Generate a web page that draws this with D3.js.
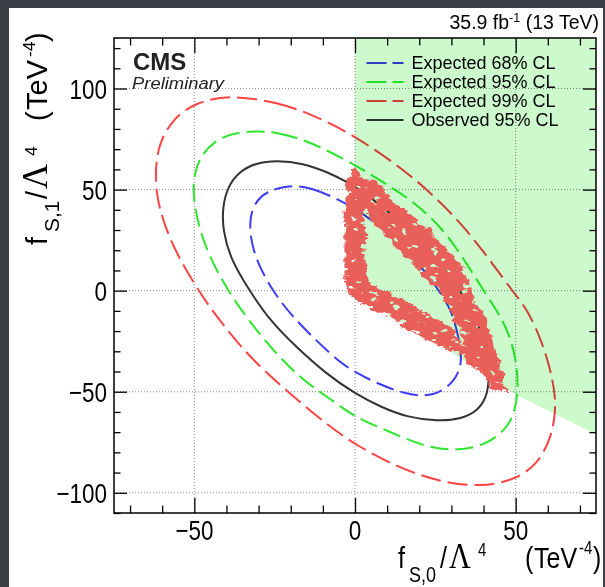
<!DOCTYPE html>
<html>
<head>
<meta charset="utf-8">
<script src="https://cdn.jsdelivr.net/npm/d3@7"></script>
<style>
  html, body { margin: 0; padding: 0; background: #3b3e44; }
  svg { display: block; }
  text { font-family: "Liberation Sans", Arial, Helvetica, sans-serif; }
</style>
</head>
<body>
<svg id="chart" width="605" height="587"></svg>
<script>
// axis ranges and tick labels
const xDomain = [-75, 75];
const yDomain = [-110, 125];
const xMajor = [-50, 0, 50];
const yMajor = [-100, -50, 0, 50, 100];
const xTickLabels = ["\u221250", "0", "50"];
const yTickLabels = ["\u2212100", "\u221250", "0", "50", "100"];

// contours (f_S0, f_S1)
const exp68 = [
  [-20.4, 52.4], [-13.1, 50.7], [-4.8, 44.9], [2.4, 38.3], [9.2, 30], [15.4, 21.7],
  [20.6, 11.8], [26.3, -0.2], [30, -9.7], [32, -21.3], [33.1, -31.2], [32.9, -37.8],
  [31, -44.4], [26.9, -50.2], [21.7, -52.4], [15.4, -51], [7.1, -46.1], [0, -40.3],
  [-4.8, -35.4], [-12.1, -24.6], [-19.4, -13], [-25.1, -1.4], [-29.8, 11.8],
  [-32.3, 23.4], [-32.9, 35], [-31.3, 43.3], [-27.7, 49.1]
];
const exp95 = [
  [-32.9, 79.3], [-23.5, 78.4], [-13.1, 73.1], [0, 62.3], [9.2, 53.2], [17.5, 44.9],
  [26.9, 31.7], [34.1, 15.1], [40.3, -0.7], [45.5, -13], [48.7, -24.6], [50.5, -37.8],
  [50.7, -49.4], [49.7, -61], [46.6, -69.3], [40.3, -76.7], [31, -79.5], [20.6, -76.7],
  [10.2, -69.3], [0, -62.7], [-6.9, -54.4], [-16.3, -44.4], [-25.6, -29.5], [-33.9, -13],
  [-39.6, 0.2], [-44.8, 15.1], [-48.4, 30], [-50.5, 46.6], [-50, 58.2], [-47.9, 67.3],
  [-42.2, 76.4]
];
const exp99 = [
  [-39, 97], [-23.5, 93], [-12, 86.3], [0, 76.4], [12.3, 63.2], [22.7, 49.9], [34.1, 31.7],
  [43.5, 11.8], [49.2, -0.6], [53.8, -9.7], [58, -24.6], [60.6, -37.8], [62.1, -49.4],
  [62.5, -59.3], [61.1, -72.6], [56.9, -85.8], [49.7, -93.7], [39.3, -97.1], [26.9, -94.9],
  [13.3, -87.5], [0, -76.2], [-9, -65.9], [-21.4, -49.4], [-32.9, -32.9], [-42.2, -14.6],
  [-47.9, -2.2], [-55.7, 18.5], [-59.9, 35], [-61.9, 48.3], [-62.1, 61.5], [-60.9, 73.1],
  [-56.8, 84.7], [-50, 92.9]
];
const obs95 = [
  [-24.5, 64.4], [-16.3, 63.2], [-7.9, 58.2], [-2.7, 54], [4.5, 46.9], [19.5, 27.1],
  [33.1, 1.1], [40.9, -24.6], [41.9, -44.4], [40.9, -52.7], [38.3, -59.3], [33.1, -63.5],
  [25.8, -64.6], [16.4, -62.7], [8.2, -57.7], [0, -51], [-9, -41.1], [-18.3, -27.9],
  [-26.6, -14.6], [-32.9, 0.2], [-38.6, 15.1], [-41.2, 30], [-41.2, 41.6], [-39.6, 51.5],
  [-36, 59], [-30.8, 63.2]
];

// green shaded region
const greenRegion = [
  [0, 125], [75, 125], [75, -71], [49.5, -51], [39, -39.5], [22, -22.5], [8, -9.5], [0, -3]
];

// red best-fit band: outer edge and inner hole
const bandOuter = [
  [-2.2, 56.5], [-0.2, 59.8], [6.1, 53.2], [13.3, 43.3], [20.6, 33.4], [26.9, 23.4],
  [33.1, 11.8], [37.2, -3.1], [41.4, -16.3], [43.5, -27.9], [45.5, -39.5], [47.6, -51.9],
  [43.5, -47.8], [39.3, -41.1], [34.1, -34.5], [28.9, -29.5], [22.7, -24.6], [15.4, -18],
  [8.2, -11.3], [1.9, -6.4], [-1.7, -3.1], [-3.3, 6.9], [-3.3, 20.1], [-3.3, 36.6], [-2.7, 49.9]
];
const bandInner = [
  [2.6, 39.5], [7, 32.5], [14.8, 18], [21.8, 6.5], [27, -2], [30, -10.5],
  [33.2, -23], [35, -28.5], [29.4, -18], [23.2, -11.5], [14.9, -4.5], [7.6, 1.5],
  [3.5, 4.5], [3, 35]
];

const legendLabels = ["Expected 68% CL", "Expected 95% CL", "Expected 99% CL", "Observed 95% CL"];

const styles = [
  { color: "#3c3cf5", dash: "18,7" },
  { color: "#2ee62e", dash: "18,7" },
  { color: "#ff4343", dash: "20,7" },
  { color: "#333333", dash: null }
];
const contours = [exp68, exp95, exp99, obs95];

const svg = d3.select("#chart");
const x = d3.scaleLinear().domain(xDomain).range([114, 596]);
const y = d3.scaleLinear().domain(yDomain).range([513, 38]);

// page panel
svg.append("rect").attr("x", 9).attr("y", 8).attr("width", 594).attr("height", 579).attr("fill", "#fff");

const defs = svg.append("defs");
defs.append("clipPath").attr("id", "plotclip")
  .append("rect").attr("x", 114).attr("y", 38).attr("width", 482).attr("height", 475);

const f = defs.append("filter").attr("id", "rough")
  .attr("x", "-10%").attr("y", "-10%").attr("width", "120%").attr("height", "120%");
f.append("feTurbulence").attr("type", "fractalNoise").attr("baseFrequency", "0.07 0.12")
  .attr("numOctaves", 3).attr("seed", 7).attr("result", "noise");
f.append("feDisplacementMap").attr("in", "SourceGraphic").attr("in2", "noise")
  .attr("scale", 11).attr("xChannelSelector", "R").attr("yChannelSelector", "G").attr("result", "disp");
f.append("feTurbulence").attr("type", "fractalNoise").attr("baseFrequency", "0.1 0.2")
  .attr("numOctaves", 2).attr("seed", 3).attr("result", "n2");
f.append("feColorMatrix").attr("in", "n2").attr("type", "matrix")
  .attr("values", "0 0 0 0 0  0 0 0 0 0  0 0 0 0 0  16 0 0 0 -10.6").attr("result", "holes");
f.append("feComposite").attr("in", "disp").attr("in2", "holes").attr("operator", "out");

const plot = svg.append("g").attr("clip-path", "url(#plotclip)");

// grid
plot.selectAll(".gx").data(xMajor).join("line")
  .attr("x1", d => x(d)).attr("x2", d => x(d)).attr("y1", y(yDomain[0])).attr("y2", y(yDomain[1]))
  .attr("stroke", "#8a8a8a").attr("stroke-dasharray", "1,2");
plot.selectAll(".gy").data(yMajor).join("line")
  .attr("y1", d => y(d)).attr("y2", d => y(d)).attr("x1", x(xDomain[0])).attr("x2", x(xDomain[1]))
  .attr("stroke", "#8a8a8a").attr("stroke-dasharray", "1,2");

// contours
const line = d3.line().x(d => x(d[0])).y(d => y(d[1])).curve(d3.curveBasisClosed);
contours.forEach((c, i) => {
  plot.append("path").attr("d", line(c)).attr("fill", "none")
    .attr("stroke", styles[i].color).attr("stroke-width", 2)
    .attr("stroke-dasharray", styles[i].dash);
});

// legend
const legend = svg.append("g");
legendLabels.forEach((lab, i) => {
  const ly = 63 + i * 19;
  legend.append("line").attr("x1", 366.5).attr("x2", 403.5).attr("y1", ly).attr("y2", ly)
    .attr("stroke", styles[i].color).attr("stroke-width", 2)
    .attr("stroke-dasharray", styles[i].dash ? "20,6" : null);
  legend.append("text").attr("x", 411.5).attr("y", ly + 5.5)
    .attr("font-size", 18).attr("fill", "#000").text(lab);
});

// green region, multiplied over everything beneath
const poly = d3.line().x(d => x(d[0])).y(d => y(d[1]));
svg.append("path").attr("d", poly(greenRegion) + "Z").attr("fill", "#ccfacc")
  .style("mix-blend-mode", "multiply");

// red band
svg.append("path").attr("d", poly(bandOuter) + "Z" + poly(bandInner) + "Z")
  .attr("fill", "#e9605a").attr("fill-rule", "evenodd").attr("filter", "url(#rough)");

// frame + ticks on all four sides
const xMinor = d3.range(-70, 71, 10).filter(v => !xMajor.includes(v));
const yMinor = d3.range(-110, 121, 10).filter(v => !yMajor.includes(v));
const axes = [
  [d3.axisBottom(x), 513, "x", 15, xMajor, xMinor],
  [d3.axisTop(x), 38, "x", 15, xMajor, xMinor],
  [d3.axisLeft(y), 114, "y", 13, yMajor, yMinor],
  [d3.axisRight(y), 596, "y", 13, yMajor, yMinor]
];
axes.forEach(([ax, pos, dir, len, maj, min]) => {
  [[maj, len], [min, len / 2]].forEach(([vals, l]) => {
    const g = svg.append("g")
      .attr("transform", dir === "x" ? `translate(0,${pos})` : `translate(${pos},0)`)
      .call(ax.tickValues(vals).tickSize(-l).tickSizeOuter(0).tickFormat(""));
    g.select(".domain").remove();
    g.selectAll("line").attr("stroke", "#000").attr("stroke-width", 1.3);
  });
});
svg.append("rect").attr("x", 114).attr("y", 38).attr("width", 482).attr("height", 475)
  .attr("fill", "none").attr("stroke", "#000").attr("stroke-width", 1.5);

// tick labels
xMajor.forEach((v, i) => {
  svg.append("text").attr("transform", `translate(${x(v)},540) scale(1,1.22)`)
    .attr("text-anchor", "middle").attr("font-size", 22.5).text(xTickLabels[i]);
});
yMajor.forEach((v, i) => {
  svg.append("text").attr("transform", `translate(107,${y(v) + 10}) scale(1,1.22)`)
    .attr("text-anchor", "end").attr("font-size", 22.5).text(yTickLabels[i]);
});

// axis titles: pieces with absolute offsets along the baseline
function title(g, sub, fs, pos) {
  const t = g.append("text");
  const p = [
    ["f", 0, fs, null],
    [sub, 12, fs * 0.72, null],
    ["/", 0, fs, null],
    ["\u039B", 0, fs * 1.2, "Liberation Serif, Times New Roman, serif"],
    ["4", -10, fs * 0.6, null],
    ["(", 0, fs, null],
    ["TeV", 0, fs, null],
    ["-4", -12, fs * 0.6, null],
    [")", 0, fs, null]
  ];
  p.forEach(([s, py, size, ff], i) => {
    t.append("tspan").attr("x", pos[i]).attr("y", py).attr("font-size", size)
      .attr("font-family", ff).text(s);
  });
}
title(svg.append("g").attr("transform", "translate(398,568) scale(1,1.2)"), "S,0", 25,
  [0, 11, 42, 51, 80, 127, 136, 181, 195]);
title(svg.append("g").attr("transform", "translate(47,245) rotate(-90)"), "S,1", 29,
  [0, 13, 46, 56, 89, 124, 135, 188, 203]);

// labels
svg.append("text").attr("x", 133).attr("y", 69.5).attr("font-size", 24).attr("font-weight", "bold")
  .attr("fill", "#222").text("CMS");
svg.append("text").attr("x", 132).attr("y", 88.5).attr("font-size", 16).attr("font-style", "italic")
  .attr("fill", "#222").attr("textLength", 92).attr("lengthAdjust", "spacingAndGlyphs").text("Preliminary");

const hdr = svg.append("text").attr("x", 599).attr("y", 29).attr("text-anchor", "end").attr("font-size", 19.5);
hdr.append("tspan").text("35.9 fb");
hdr.append("tspan").attr("dy", -7).attr("font-size", 12.5).text("-1");
hdr.append("tspan").attr("dy", 7).text(" (13 TeV)");
</script>
</body>
</html>
